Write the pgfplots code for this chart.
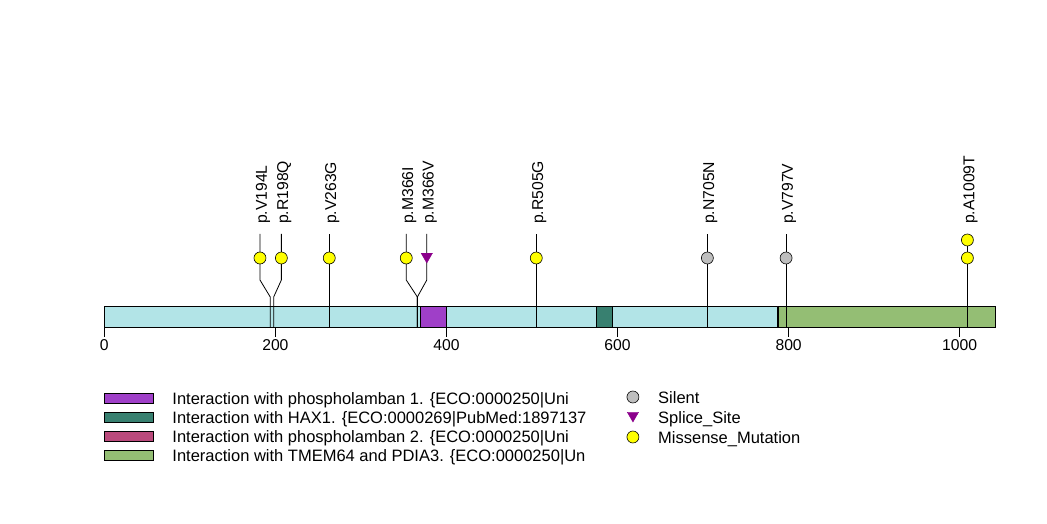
\documentclass[border=0pt]{standalone}
\usepackage{pgfplots}
\pgfplotsset{compat=1.18}
\usepackage{fontspec}
\setmainfont{Liberation Sans}
\definecolor{barcyan}{RGB}{178,228,231}
\definecolor{dpurple}{RGB}{159,63,200}
\definecolor{dteal}{RGB}{56,128,112}
\definecolor{dpink}{RGB}{186,74,124}
\definecolor{dgreen}{RGB}{148,190,116}
\definecolor{myyellow}{RGB}{255,255,0}
\definecolor{mygray}{RGB}{190,190,190}
\definecolor{splice}{RGB}{139,0,139}
\newcommand{\labfont}{\fontsize{15.7bp}{18bp}\selectfont}
\newcommand{\legfont}{\fontsize{16.5bp}{19bp}\selectfont}
\begin{document}
\begin{tikzpicture}
\begin{axis}[width=1047bp,height=524bp,scale only axis,hide axis,
  xmin=-121.93, xmax=1102.06, ymin=0, ymax=524, y dir=reverse, clip=false]
% protein bar
\addplot[draw=black, fill=barcyan, line width=0.8bp] coordinates {(0,306.7) (1042,306.7) (1042,327.3) (0,327.3) (0,306.7)};
% domains
\addplot[draw=black, fill=dpurple, line width=0.8bp] coordinates {(370,306.7) (400,306.7) (400,327.3) (370,327.3) (370,306.7)};
\addplot[draw=black, fill=dteal, line width=0.8bp] coordinates {(575,306.7) (594,306.7) (594,327.3) (575,327.3) (575,306.7)};
\addplot[draw=black, fill=dpink, line width=0.8bp] coordinates {(787,306.7) (808,306.7) (808,327.3) (787,327.3) (787,306.7)};
\addplot[draw=black, fill=dgreen, line width=0.8bp] coordinates {(788,306.7) (1042,306.7) (1042,327.3) (788,327.3) (788,306.7)};
% axis ticks
\addplot[black, line width=0.8bp] coordinates {(0,327.3) (1000,327.3)};
\pgfplotsinvokeforeach{0,200,400,600,800,1000}{
  \addplot[black, line width=0.8bp] coordinates {(#1,327.3) (#1,336.7)};
  \node[anchor=base, inner sep=0, font=\labfont] at (axis cs:#1,350.5) {#1};
}
% stems
\addplot[black, line width=0.8bp] coordinates {(194,327.3) (194,297) (182,280) (182,234)};
\addplot[black, line width=0.8bp] coordinates {(198,327.3) (198,297) (207,280) (207,234)};
\addplot[black, line width=0.8bp] coordinates {(263,327.3) (263,234)};
\addplot[black, line width=0.8bp] coordinates {(366,327.3) (366,297) (353,280) (353,234)};
\addplot[black, line width=0.8bp] coordinates {(366,327.3) (366,297) (377,280) (377,234)};
\addplot[black, line width=0.8bp] coordinates {(505,327.3) (505,234)};
\addplot[black, line width=0.8bp] coordinates {(705,327.3) (705,234)};
\addplot[black, line width=0.8bp] coordinates {(797,327.3) (797,234)};
\addplot[black, line width=0.8bp] coordinates {(1009,327.3) (1009,234)};
% heads
\addplot[only marks, mark=*, mark size=6bp, mark options={fill=myyellow, draw=black, line width=0.6bp}]
  coordinates {(182,258) (207,258) (263,258) (353,258) (505,258) (1009,258) (1009,240)};
\addplot[only marks, mark=*, mark size=6bp, mark options={fill=mygray, draw=black, line width=0.6bp}]
  coordinates {(705,258) (797,258)};
\addplot[only marks, mark=triangle*, mark size=6.5bp, mark options={rotate=180, fill=splice, draw=splice}]
  coordinates {(377,256.5)};
% labels
\node[rotate=90, anchor=west, inner sep=0, font=\labfont] at (axis cs:185.5,224) {p.V194L};
\node[rotate=90, anchor=west, inner sep=0, font=\labfont] at (axis cs:210.5,224) {p.R198Q};
\node[rotate=90, anchor=west, inner sep=0, font=\labfont] at (axis cs:266.5,224) {p.V263G};
\node[rotate=90, anchor=west, inner sep=0, font=\labfont] at (axis cs:356.5,224) {p.M366I};
\node[rotate=90, anchor=west, inner sep=0, font=\labfont] at (axis cs:380.5,224) {p.M366V};
\node[rotate=90, anchor=west, inner sep=0, font=\labfont] at (axis cs:508.5,224) {p.R505G};
\node[rotate=90, anchor=west, inner sep=0, font=\labfont] at (axis cs:708.5,224) {p.N705N};
\node[rotate=90, anchor=west, inner sep=0, font=\labfont] at (axis cs:800.5,224) {p.V797V};
\node[rotate=90, anchor=west, inner sep=0, font=\labfont] at (axis cs:1012.5,224) {p.A1009T};
% domain legend
\addplot[draw=black, fill=dpurple, line width=0.8bp] coordinates {(0,393) (57,393) (57,403) (0,403) (0,393)};
\addplot[draw=black, fill=dteal, line width=0.8bp] coordinates {(0,412) (57,412) (57,422) (0,422) (0,412)};
\addplot[draw=black, fill=dpink, line width=0.8bp] coordinates {(0,431) (57,431) (57,441) (0,441) (0,431)};
\addplot[draw=black, fill=dgreen, line width=0.8bp] coordinates {(0,450) (57,450) (57,460) (0,460) (0,450)};
\node[anchor=base west, inner sep=0, font=\legfont] at (axis cs:79.4,404) {Interaction with phospholamban 1. \{ECO:0000250|Uni};
\node[anchor=base west, inner sep=0, font=\legfont] at (axis cs:79.4,423) {Interaction with HAX1. \{ECO:0000269|PubMed:1897137};
\node[anchor=base west, inner sep=0, font=\legfont] at (axis cs:79.4,442) {Interaction with phospholamban 2. \{ECO:0000250|Uni};
\node[anchor=base west, inner sep=0, font=\legfont] at (axis cs:79.4,461) {Interaction with TMEM64 and PDIA3. \{ECO:0000250|Un};
% mutation legend
\addplot[only marks, mark=*, mark size=6bp, mark options={fill=mygray, draw=black, line width=0.6bp}] coordinates {(618,397)};
\addplot[only marks, mark=triangle*, mark size=6.5bp, mark options={rotate=180, fill=splice, draw=splice}] coordinates {(618,415.5)};
\addplot[only marks, mark=*, mark size=6bp, mark options={fill=myyellow, draw=black, line width=0.6bp}] coordinates {(618,437)};
\node[anchor=base west, inner sep=0, font=\legfont] at (axis cs:647.3,403) {Silent};
\node[anchor=base west, inner sep=0, font=\legfont] at (axis cs:647.3,423) {Splice\_Site};
\node[anchor=base west, inner sep=0, font=\legfont] at (axis cs:647.3,443) {Missense\_Mutation};
\end{axis}
\pgfresetboundingbox
\path (current axis.south west) rectangle (current axis.north east);
\end{tikzpicture}
\end{document}
